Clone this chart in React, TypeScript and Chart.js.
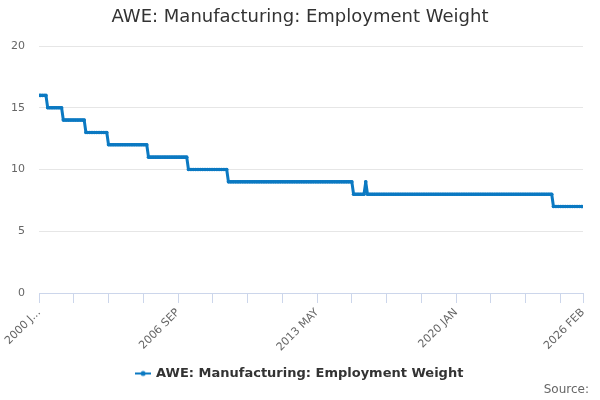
import React, { useEffect, useRef } from 'react';
import { Chart, registerables } from 'chart.js';

Chart.register(...registerables);

// step levels, with how many months each level lasts
const stepLevels = [16, 15, 14, 13, 12, 11, 10, 9, 8, 9, 8, 7];
const stepMonths = [5, 9, 13, 13, 23, 23, 23, 72, 7, 1, 107, 18];

// month index (0 = 2000 JAN) of every axis tick, and which ones carry a label
const tickPositions = [0, 20, 40, 60, 80, 100, 120, 140, 160, 180, 200, 220, 240, 260, 280, 300, 313];
const labelPositions = [0, 80, 160, 240, 313];
const tickLabels = ['2000 J...', '2006 SEP', '2013 MAY', '2020 JAN', '2026 FEB'];

const yTicks = [0, 5, 10, 15, 20];

const seriesName = 'AWE: Manufacturing: Employment Weight';
const sourceText = 'Source:';
const lineColor = '#0b79c2';

const weights: { x: number; y: number }[] = [];
stepLevels.forEach((level, i) => {
  for (let k = 0; k < stepMonths[i]; k++) {
    weights.push({ x: weights.length, y: level });
  }
});

function legendSymbol(): HTMLCanvasElement {
  const c = document.createElement('canvas');
  c.width = 16;
  c.height = 8;
  const g = c.getContext('2d');
  if (g) {
    g.strokeStyle = lineColor;
    g.lineWidth = 2;
    g.beginPath();
    g.moveTo(0, 4);
    g.lineTo(16, 4);
    g.stroke();
    g.fillStyle = lineColor;
    g.beginPath();
    g.arc(8, 4, 2.5, 0, Math.PI * 2);
    g.fill();
  }
  return c;
}

// "Source:" sits in the bottom right corner
const sourcePlugin = {
  id: 'sourceText',
  afterDraw: (chart: Chart) => {
    const g = chart.ctx;
    g.save();
    g.font = '12px "DejaVu Sans", sans-serif';
    g.fillStyle = '#666666';
    g.textAlign = 'right';
    g.textBaseline = 'middle';
    g.fillText(sourceText, 589, 390);
    g.restore();
  },
};

const App: React.FC = () => {
  const chartRef = useRef<HTMLCanvasElement>(null);
  const chartInstanceRef = useRef<Chart>();

  useEffect(() => {
    document.body.style.margin = '0';
    if (!chartRef.current) return;
    const ctx = chartRef.current.getContext('2d');
    if (!ctx) return;

    Chart.defaults.font.family = '"DejaVu Sans", sans-serif';
    const symbol = legendSymbol();

    chartInstanceRef.current = new Chart(ctx, {
      type: 'line',
      data: {
        datasets: [{
          label: seriesName,
          data: weights,
          borderColor: lineColor,
          backgroundColor: lineColor,
          borderWidth: 3,
          borderJoinStyle: 'round',
          pointRadius: 1.8,
          pointBorderWidth: 0,
          pointBackgroundColor: lineColor,
          tension: 0,
        }]
      },
      plugins: [sourcePlugin],
      options: {
        animation: false,
        responsive: true,
        maintainAspectRatio: false,
        events: [],
        layout: { padding: { left: 0, right: 0, top: 0, bottom: 10 } },
        scales: {
          x: {
            type: 'linear',
            min: 0,
            max: 313,
            afterBuildTicks: (scale) => {
              scale.ticks = tickPositions.map((v) => ({ value: v }));
            },
            afterFit: (scale) => {
              scale.height = 72;
            },
            grid: {
              drawOnChartArea: false,
              drawTicks: true,
              tickLength: 10,
              color: '#ccd6eb',
            },
            border: { color: '#ccd6eb' },
            ticks: {
              autoSkip: false,
              maxRotation: 45,
              minRotation: 45,
              padding: 3,
              color: '#666666',
              font: { size: 11 },
              callback: (value) => {
                const i = labelPositions.indexOf(Number(value));
                return i >= 0 ? tickLabels[i] : '';
              },
            },
          },
          y: {
            min: 0,
            max: 20,
            afterBuildTicks: (scale) => {
              scale.ticks = yTicks.map((v) => ({ value: v }));
            },
            afterFit: (scale) => {
              scale.width = 39;
            },
            grid: { color: '#e6e6e6', drawTicks: false },
            border: { display: false },
            ticks: {
              padding: 14,
              color: '#666666',
              font: { size: 11 },
            },
          },
          // empty right-hand strip so the plot ends before the canvas edge
          yRight: {
            position: 'right',
            min: 0,
            max: 20,
            afterFit: (scale) => {
              scale.width = 17;
            },
            grid: { display: false },
            border: { display: false },
            ticks: { display: false },
          },
        },
        plugins: {
          title: {
            display: true,
            text: seriesName,
            color: '#333333',
            font: { size: 18, weight: 'normal' },
            padding: { top: 7, bottom: 17.4 },
          },
          legend: {
            display: true,
            position: 'bottom',
            labels: {
              color: '#333333',
              font: { size: 13, weight: 'bold' },
              usePointStyle: true,
              padding: 2,
              generateLabels: () => [{
                text: seriesName,
                fillStyle: lineColor,
                strokeStyle: lineColor,
                lineWidth: 0,
                pointStyle: symbol,
                hidden: false,
                datasetIndex: 0,
                fontColor: '#333333',
              }],
            },
          },
          tooltip: { enabled: false },
        },
      }
    });

    return () => {
      if (chartInstanceRef.current) {
        chartInstanceRef.current.destroy();
      }
    };
  }, []);

  return (
    <div style={{ position: 'fixed', left: 0, top: 0, width: 600, height: 400, background: '#ffffff' }}>
      <canvas ref={chartRef} />
    </div>
  );
};

export default App;
